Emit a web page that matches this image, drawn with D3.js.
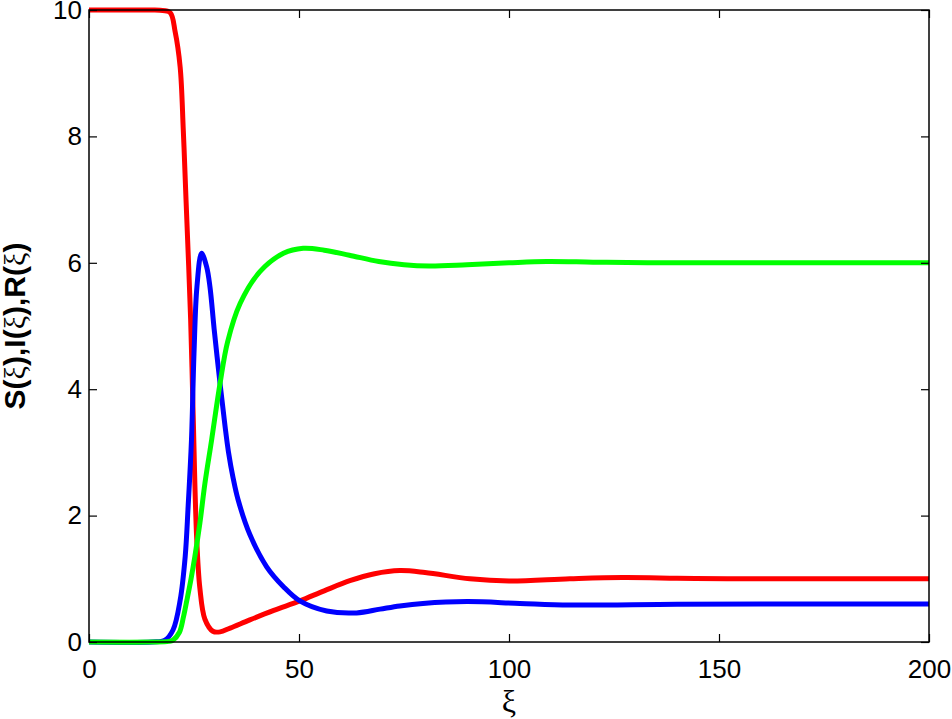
<!DOCTYPE html>
<html>
<head>
<meta charset="utf-8">
<script src="https://cdn.jsdelivr.net/npm/d3@7.9.0/dist/d3.min.js"></script>
<style>
  body { margin: 0; background: #fff; }
  svg { display: block; font-family: "Liberation Sans", Arial, Helvetica, sans-serif; }
</style>
</head>
<body>
<div id="chart"></div>
<script>
const width = 952;
const height = 719;
const margin = { top: 10, right: 23, bottom: 77, left: 89 };

// S(xi) - red
const sXi = [0, 15, 16.9, 19.3, 20.5, 21.7, 22.45, 23.1, 24.2, 24.8, 25.6, 26.4, 27.6, 29.5, 31.2, 33.6,
  38.3, 44, 50.2, 56, 62.1, 68, 74, 80, 90.7, 100, 114.5, 127, 140, 152, 175, 200];
const sVals = [10, 10, 9.995, 9.96, 9.66, 9.1, 8.1, 7.0, 5.1, 3.6, 1.7, 0.85, 0.36, 0.17, 0.16, 0.22,
  0.35, 0.5, 0.65, 0.81, 0.97, 1.08, 1.13, 1.1, 1.0, 0.965, 1.0, 1.02, 1.01, 1.0, 1.0, 1.0];

// I(xi) - blue
const iXi = [0, 15, 18.1, 20, 21.7, 22.9, 23.6, 24.4, 25.0, 25.7, 26.8, 28.0, 28.8, 29.8, 31.2, 32.4, 33.2,
  34.3, 35.5, 38.3, 42.3, 46.3, 50.2, 56.6, 63.7, 69.3, 74, 79.5, 90, 102.6, 114.5, 140, 170, 200];
const iVals = [0, 0, 0.03, 0.19, 0.66, 1.35, 2.14, 3.2, 4.57, 5.62, 6.15, 5.94, 5.62, 4.95, 4.09, 3.41, 3.01,
  2.6, 2.25, 1.7, 1.19, 0.875, 0.65, 0.49, 0.46, 0.52, 0.57, 0.61, 0.64, 0.61, 0.585, 0.597, 0.6, 0.6];

// R(xi) - green
const rXi = [0, 15, 19, 20, 21.5, 22.5, 23.3, 24.3, 25.2, 26.4, 27.6, 29.2, 31.2, 33, 36, 40.7, 46.3, 51,
  56, 62, 69, 75, 81, 90, 100, 109, 120, 133, 170, 200];
const rVals = [0, 0, 0.01, 0.03, 0.15, 0.4, 0.66, 1.0, 1.35, 1.88, 2.51, 3.2, 4.09, 4.75, 5.36, 5.86, 6.15, 6.23,
  6.2, 6.12, 6.02, 5.97, 5.95, 5.97, 6.0, 6.02, 6.01, 6.0, 6.0, 6.0];

const xTicks = [0, 50, 100, 150, 200];
const yTicks = [0, 2, 4, 6, 8, 10];

const series = [
  { xi: sXi, vals: sVals, color: '#ff0000' },
  { xi: iXi, vals: iVals, color: '#0000ff' },
  { xi: rXi, vals: rVals, color: '#00ff00' }
];

const svg = d3.select('#chart').append('svg')
  .attr('width', width)
  .attr('height', height);

const x = d3.scaleLinear().domain([0, 200]).range([margin.left, width - margin.right]);
const y = d3.scaleLinear().domain([0, 10]).range([height - margin.bottom, margin.top]);

const line = d3.line()
  .x(d => x(d[0]))
  .y(d => y(d[1]))
  .curve(d3.curveCatmullRom.alpha(0.5));

svg.append('g').selectAll('path')
  .data(series)
  .enter()
  .append('path')
  .attr('fill', 'none')
  .attr('stroke', d => d.color)
  .attr('stroke-width', 5)
  .attr('stroke-linejoin', 'round')
  .attr('d', d => line(d.xi.map((v, i) => [v, d.vals[i]])));

// axes, ticks pointing inward like matlab
const styleAxis = g => {
  g.select('.domain').remove();
  g.selectAll('line').attr('stroke', '#000').attr('stroke-width', 1.2);
  g.selectAll('text').attr('font-size', 26).attr('fill', '#000');
};

svg.append('g')
  .attr('transform', `translate(0,${y(0)})`)
  .call(d3.axisBottom(x).tickValues(xTicks).tickSize(-8).tickPadding(18))
  .call(styleAxis);

svg.append('g')
  .attr('transform', `translate(${x(0)},0)`)
  .call(d3.axisLeft(y).tickValues(yTicks).tickSize(-8).tickPadding(7))
  .call(styleAxis);

svg.append('g')
  .attr('transform', `translate(0,${y(10)})`)
  .call(d3.axisTop(x).tickValues(xTicks).tickSize(-8).tickFormat(''))
  .call(styleAxis);

svg.append('g')
  .attr('transform', `translate(${x(200)},0)`)
  .call(d3.axisRight(y).tickValues(yTicks).tickSize(-8).tickFormat(''))
  .call(styleAxis);

svg.append('rect')
  .attr('x', x(0))
  .attr('y', y(10))
  .attr('width', x(200) - x(0))
  .attr('height', y(0) - y(10))
  .attr('fill', 'none')
  .attr('stroke', '#000')
  .attr('stroke-width', 1.5);

// labels
svg.append('text')
  .attr('x', (x(0) + x(200)) / 2)
  .attr('y', 712)
  .attr('text-anchor', 'middle')
  .attr('font-family', '"Liberation Serif", "Times New Roman", serif')
  .attr('font-size', 32)
  .text('ξ');

const yLabel = svg.append('text')
  .attr('transform', `translate(25,${(y(0) + y(10)) / 2}) rotate(-90)`)
  .attr('text-anchor', 'middle')
  .attr('font-size', 30)
  .attr('font-weight', 'bold');

['S', 'I', 'R'].forEach((name, i) => {
  yLabel.append('tspan').text((i > 0 ? ',' : '') + name + '(');
  yLabel.append('tspan')
    .attr('font-weight', 'normal')
    .attr('font-family', '"Liberation Serif", "Times New Roman", serif')
    .text('ξ');
  yLabel.append('tspan').text(')');
});
</script>
</body>
</html>
